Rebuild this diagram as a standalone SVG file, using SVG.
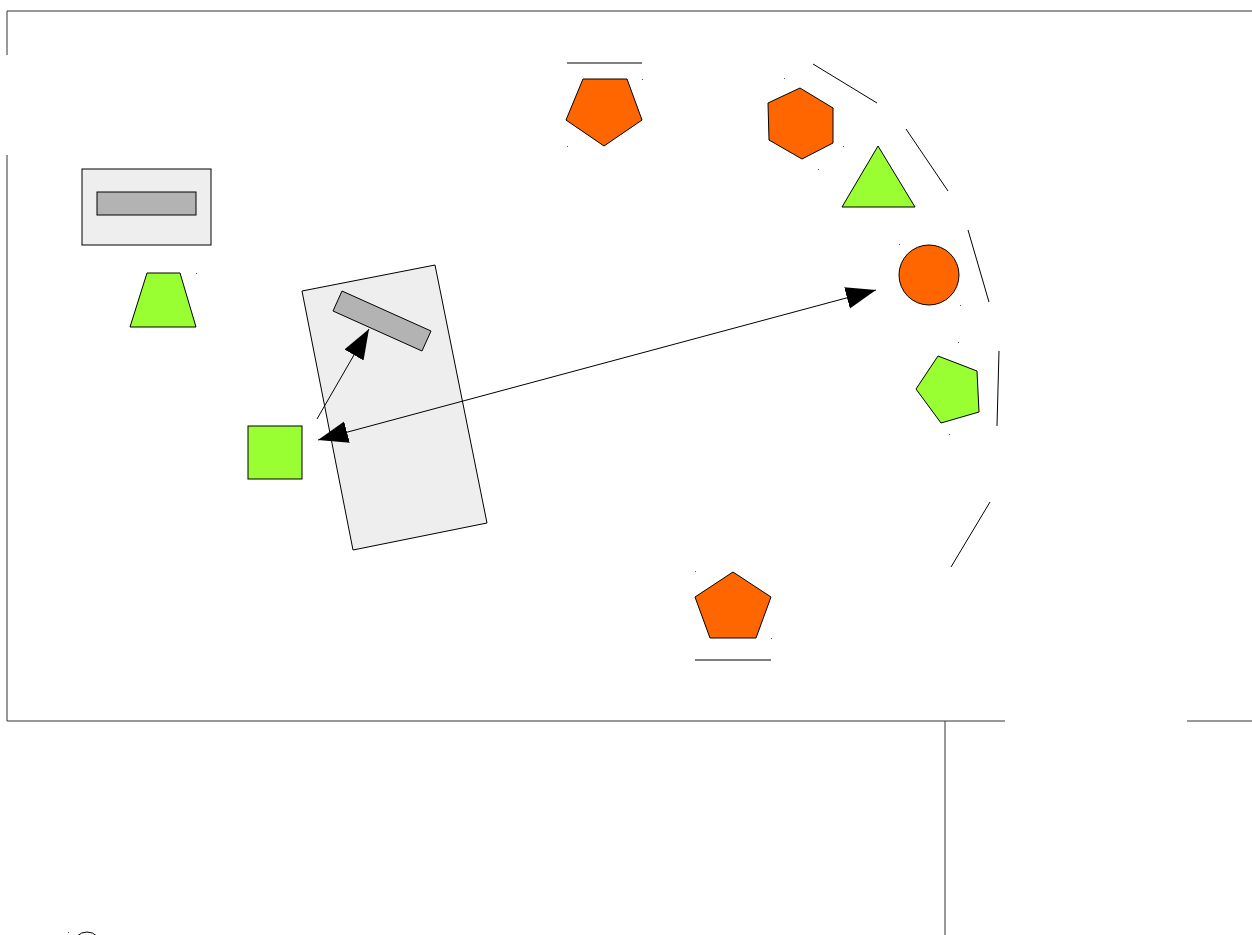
<svg xmlns="http://www.w3.org/2000/svg" width="1252" height="935" viewBox="0 0 1252 935">
<style>
.frame{stroke:#333;stroke-width:1;fill:none}
.ln{stroke:#000;stroke-width:1;fill:none}
.orange{fill:#ff6600;stroke:#000;stroke-width:1}
.green{fill:#99ff33;stroke:#000;stroke-width:1}
.light{fill:#eeeeee;stroke:#000;stroke-width:1}
.gray{fill:#b3b3b3;stroke:#000;stroke-width:1}
.dot{fill:#555}
</style>
<defs>
<marker id="ah" markerUnits="userSpaceOnUse" markerWidth="32" markerHeight="24" refX="30" refY="11" orient="auto-start-reverse" viewBox="0 0 32 24">
<path d="M0,0 L30,11 L0,22 Z" fill="#000"/>
</marker>
</defs>
<rect width="1252" height="935" fill="#fff"/>
<g id="frame">
<path class="frame" d="M7,55 V11 H1252"/>
<path class="frame" d="M7,155 V721 H1005"/>
<path class="frame" d="M1187,721 H1252"/>
<path class="frame" d="M945,721 V935"/>
</g>
<g id="node-top-left">
<rect class="light" x="82" y="169" width="129" height="76"/>
<rect class="gray" x="97" y="192" width="99" height="23"/>
</g>
<g id="node-trapezoid">
<polygon class="green" points="147,273 180,273 196,327 130,327"/>
<rect class="dot" x="196" y="273" width="1" height="1"/>
</g>
<g id="node-pentagon-top">
<line class="ln" x1="567" y1="63" x2="642" y2="63"/>
<polygon class="orange" points="583,79 627,79 642,120 604,146 566,120"/>
<rect class="dot" x="642" y="79" width="1" height="1"/>
<rect class="dot" x="567" y="146" width="1" height="1"/>
</g>
<g id="node-hexagon">
<polygon class="orange" points="800,88 833,108 833,143 802,159 769,140 768,103"/>
<rect class="dot" x="784" y="78" width="1" height="1"/>
<rect class="dot" x="843" y="146" width="1" height="1"/>
<rect class="dot" x="818" y="169" width="1" height="1"/>
</g>
<g id="node-triangle">
<polygon class="green" points="878,146 915,207 842,207"/>
</g>
<g id="node-circle">
<circle class="orange" cx="929" cy="275" r="30"/>
<rect class="dot" x="899" y="244" width="1" height="1"/>
<rect class="dot" x="960" y="305" width="1" height="1"/>
</g>
<g id="node-pentagon-green">
<polygon class="green" points="938,356 977,371 979,412 941,423 916,389"/>
<rect class="dot" x="958" y="342" width="1" height="1"/>
<rect class="dot" x="949" y="434" width="1" height="1"/>
</g>
<g id="node-pentagon-bottom">
<polygon class="orange" points="733,572 771,597 756,638 710,638 695,597"/>
<line class="ln" x1="695" y1="660" x2="771" y2="660"/>
<rect class="dot" x="695" y="571" width="1" height="1"/>
<rect class="dot" x="771" y="638" width="1" height="1"/>
</g>
<g id="arc-lines">
<line class="ln" x1="813" y1="64" x2="877" y2="103"/>
<line class="ln" x1="906" y1="129" x2="948" y2="191"/>
<line class="ln" x1="968" y1="230" x2="989" y2="302"/>
<line class="ln" x1="999" y1="351" x2="997" y2="426"/>
<line class="ln" x1="990" y1="502" x2="951" y2="567"/>
</g>
<g id="node-rotated">
<polygon class="light" points="302,291 435,265 487,523 353,550"/>
<polygon class="gray" points="342,291 431,331 422,351 333,311"/>
</g>
<g id="node-square">
<rect class="green" x="248" y="426" width="54" height="53"/>
</g>
<g id="node-bottom-left">
<circle class="ln" cx="87" cy="946" r="14"/>
<rect class="dot" x="68" y="932" width="1" height="1"/>
</g>
<g id="connectors">
<line class="ln" x1="317" y1="419" x2="369" y2="329" marker-end="url(#ah)"/>
<line class="ln" x1="318" y1="440" x2="876" y2="290" marker-start="url(#ah)" marker-end="url(#ah)"/>
</g>
</svg>
